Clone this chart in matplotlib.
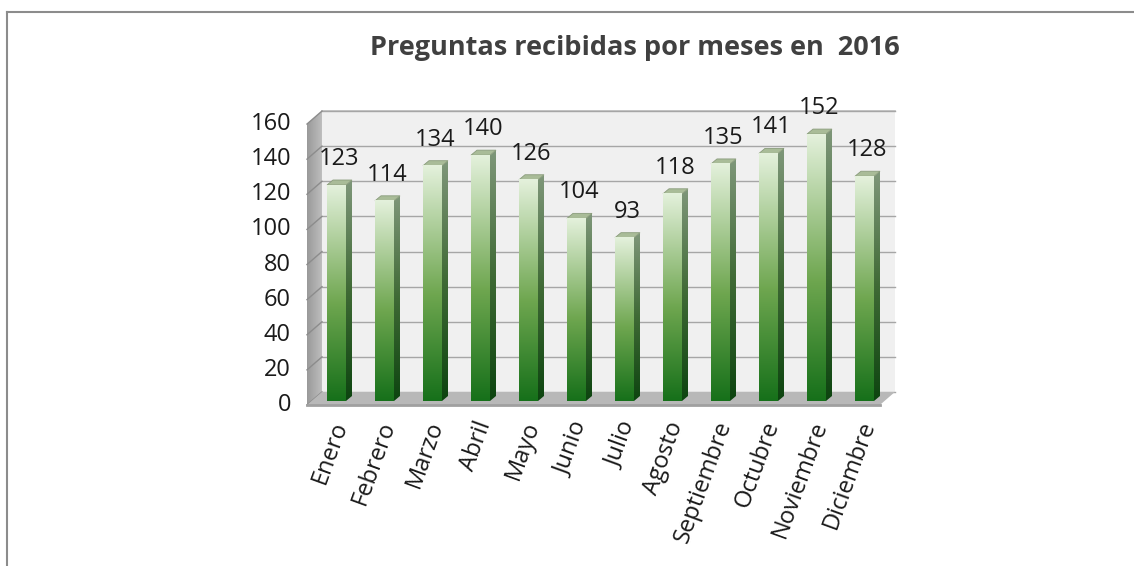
import numpy as np
import matplotlib
matplotlib.use("Agg")
import matplotlib.pyplot as plt
from matplotlib.colors import LinearSegmentedColormap
from matplotlib.patches import Polygon
from matplotlib.lines import Line2D

# data
meses = ["Enero", "Febrero", "Marzo", "Abril", "Mayo", "Junio", "Julio",
         "Agosto", "Septiembre", "Octubre", "Noviembre", "Diciembre"]
preguntas = [123, 114, 134, 140, 126, 104, 93, 118, 135, 141, 152, 128]
y_ticks = [0, 20, 40, 60, 80, 100, 120, 140, 160]
titulo = "Preguntas recibidas por meses en  2016"

plt.rcParams['font.family'] = ['Open Sans', 'DejaVu Sans']

W, H = 1134, 566
fig = plt.figure(figsize=(W / 100, H / 100), dpi=100)
ax = fig.add_axes([0, 0, 1, 1])
ax.axis('off')

# pixel geometry -> data units (x: one unit per month, y: value units)
px_x, px_y = 48.0, 1.756
x0_pix, y0_pix = 336.5, 405
ax.set_xlim(-x0_pix / px_x, (W - x0_pix) / px_x)
ax.set_ylim((y0_pix - H) / px_y, y0_pix / px_y)

n = len(meses)
ymax = y_ticks[-1]
# 3d offsets
wdx, wdy = 15 / px_x, 13 / px_y        # wall depth
bdx, bdy = 6 / px_x, 5 / px_y          # bar depth
bw = 19 / px_x                         # bar front width
b0 = 4 / px_y                          # bar base lift
xl = -0.615
xr = 11.32

# back wall
ax.add_patch(Polygon([(xl + wdx, wdy), (xr + wdx, wdy), (xr + wdx, ymax + wdy),
                      (xl + wdx, ymax + wdy)], closed=True, fc='#f0f0f0',
                     ec='none', zorder=1))
ax.plot([xl + wdx, xr + wdx], [ymax + wdy, ymax + wdy], color='#bfbfbf', lw=1.2, zorder=2)
# side wall
side_cmap = LinearSegmentedColormap.from_list('side', ['#9a9a9a', '#bdbdbd'])
sw = Polygon([(xl, 0), (xl + wdx, wdy), (xl + wdx, ymax + wdy), (xl, ymax)],
             closed=True, fc='none', ec='none')
ax.add_patch(sw)
im = ax.imshow(np.linspace(0, 1, 50).reshape(1, -1), cmap=side_cmap, aspect='auto',
               extent=(xl, xl + wdx, 0, ymax + wdy), zorder=1, origin='lower')
im.set_clip_path(sw)
# gridlines
for t in y_ticks:
    ax.plot([xl + wdx, xr + wdx], [t + wdy, t + wdy], color='#a6a6a6', lw=1.0, zorder=2)
    ax.plot([xl, xl + wdx], [t, t + wdy], color='#8c8c8c', lw=1.0, zorder=2)
# floor
ax.add_patch(Polygon([(xl, 0), (xr, 0), (xr + wdx, wdy), (xl + wdx, wdy)],
                     closed=True, fc='#b8b8b8', ec='none', zorder=2))
ax.plot([xl, xr], [0, 0], color='#a0a0a0', lw=2, zorder=2)

# bars
front_cmap = LinearSegmentedColormap.from_list(
    'front', [(0, '#16701a'), (0.45, '#6ea64f'), (1, '#e4f1dc')])
side_bar_cmap = LinearSegmentedColormap.from_list(
    'sideb', [(0, '#0d4410'), (0.5, '#3f6a35'), (1, '#7f977a')])
grad = np.linspace(0, 1, 256).reshape(-1, 1)
for i, v in enumerate(preguntas):
    xa, xb = i - bw / 2, i + bw / 2
    ya, yb = b0, b0 + v
    # side face
    sp = Polygon([(xb, ya), (xb + bdx, ya + bdy), (xb + bdx, yb + bdy), (xb, yb)],
                 closed=True, fc='none', ec='none')
    ax.add_patch(sp)
    im = ax.imshow(grad, cmap=side_bar_cmap, aspect='auto', origin='lower',
                   extent=(xb, xb + bdx, ya, yb + bdy), zorder=3)
    im.set_clip_path(sp)
    # top face
    ax.add_patch(Polygon([(xa, yb), (xb, yb), (xb + bdx, yb + bdy), (xa + bdx, yb + bdy)],
                         closed=True, fc='#a9bc98', ec='#8a9c7c', lw=0.6, zorder=4))
    # front face
    ax.imshow(grad, cmap=front_cmap, aspect='auto', origin='lower',
              extent=(xa, xb, ya, yb), zorder=4)
    ax.text(i + 0.06, yb + 26 / px_y, str(v), ha='center', va='center',
            fontsize=17, color='#1a1a1a', zorder=5)
    ax.text(i + 0.09, -17 / px_y, meses[i], rotation=70, rotation_mode='anchor',
            ha='right', va='center', fontsize=17, color='#1a1a1a')

# y tick labels
for t in y_ticks:
    ax.text((291 - x0_pix) / px_x, t, str(t), ha='right', va='center',
            fontsize=17, color='#1a1a1a')

ax.text((635 - x0_pix) / px_x, (y0_pix - 48) / px_y, titulo, ha='center', va='center',
        fontsize=19.5, fontweight='bold', color='#404040')

# outer border
fig.add_artist(Line2D([7 / W, 1], [1 - 12 / H, 1 - 12 / H], color='#8c8c8c', lw=1.5))
fig.add_artist(Line2D([7 / W, 7 / W], [0, 1 - 12 / H], color='#8c8c8c', lw=1.5))

fig.savefig('out.png', dpi=100)
